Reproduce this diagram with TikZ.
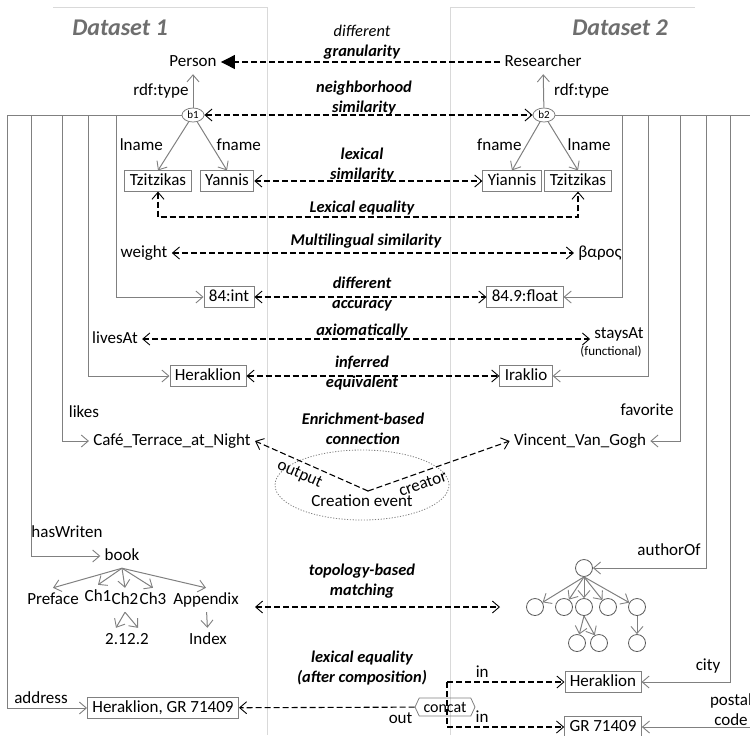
\documentclass[tikz,border=0pt]{standalone}
\usepackage{fontspec}
\setmainfont{Carlito}
\usetikzlibrary{arrows.meta,shapes.geometric,shapes.symbols}
\definecolor{edgegray}{RGB}{128,128,128}
\definecolor{titlegray}{RGB}{110,110,110}
\tikzset{
  >={Straight Barb[length=3.5pt,width=6pt,line width=0.45pt]},
  txt/.style={font=\fontsize{8.5}{10}\selectfont, inner sep=2pt, text height=6pt, text depth=1.8pt},
  val/.style={txt, draw=edgegray, inner xsep=2.5pt, inner ysep=1.2pt},
  sim/.style={font=\fontsize{8.2}{9.8}\selectfont\bfseries\itshape, align=center, inner sep=0pt},
  edge/.style={draw=edgegray, line width=0.5pt, ->},
  match/.style={draw=black, line width=0.55pt, dash pattern=on 3pt off 1.5pt},
  blank/.style={ellipse, draw=edgegray, font=\fontsize{5.5}{6}\selectfont, inner sep=0.5pt, minimum width=11pt, minimum height=7pt},
  leaf/.style={circle, draw=edgegray!70!black, minimum size=8.5pt, inner sep=0pt},
  title/.style={font=\fontsize{12}{14}\selectfont\bfseries\itshape, text=titlegray},
  panel/.style={draw=gray!30, line width=0.5pt},
  evt/.style={ellipse, draw=edgegray, line width=0.4pt, dash pattern=on 0.6pt off 0.8pt, minimum width=87pt, minimum height=35pt},
  conc/.style={signal, signal to=west and east, signal pointer angle=130, draw=edgegray, font=\fontsize{8}{9}\selectfont, inner sep=1pt, minimum height=9pt, minimum width=30pt}
}
\begin{document}
\begin{tikzpicture}[x=0.5pt,y=-0.5pt]
  \useasboundingbox (0,0) rectangle (750,735);
  \draw[panel] (53,7) -- (267,7) -- (267,735);
  \draw[panel] (450,735) -- (450,7) -- (695,7);
  \node[title] (ds1) at (120,28) {Dataset 1};
  \node[title] (ds2) at (620,28) {Dataset 2};

  \node[txt] (per) at (193,62) {Person};
  \node[txt] (res) at (543,62) {Researcher};
  \node[blank] (b1) at (193,115) {b1};
  \node[blank] (b2) at (544,115) {b2};
  \draw[edge] (b1) -- (per) node[midway,left,txt] {rdf:type};
  \draw[edge] (b2) -- (res) node[midway,right,txt,xshift=3pt] {rdf:type};

  \node[val] (tzL) at (158,181) {Tzitzikas};
  \node[val] (yan) at (227,181) {Yannis};
  \node[val] (yia) at (512,181) {Yiannis};
  \node[val] (tzR) at (578,181) {Tzitzikas};
  \draw[edge] (b1) -- (tzL.north) node[midway,left,txt,xshift=-3pt] {lname};
  \draw[edge] (b1) -- (yan.north) node[midway,right,txt] {fname};
  \draw[edge] (b2) -- (yia.north) node[midway,left,txt] {fname};
  \draw[edge] (b2) -- (tzR.north) node[midway,right,txt] {lname};

  \node[txt] (wgt) at (144,253) {weight};
  \node[txt] (bar) at (600,253) {βαρος};
  \node[val] (int) at (229,297) {84:int};
  \node[val] (flt) at (525,297) {84.9:float};
  \node[txt] (liv) at (115,339) {livesAt};
  \node[txt] (sa) at (619,334) {staysAt};
  \node[txt,font=\fontsize{6.5}{7}\selectfont] (fun) at (611,351) {(functional)};
  \node[val] (herL) at (208,376) {Heraklion};
  \node[val] (ira) at (526,376) {Iraklio};
  \node[txt] (lik) at (84,413) {likes};
  \node[txt] (fav) at (647,411) {favorite};
  \node[txt] (cafe) at (172,441) {Café\_Terrace\_at\_Night};
  \node[txt] (vvg) at (580,441) {Vincent\_Van\_Gogh};

  \node[evt] (ev) at (362,485) {};
  \node[txt] (cre) at (362,502) {Creation event};
  \coordinate (v) at (368,491);

  \node[txt] (hw) at (67,533) {hasWriten};
  \node[txt] (book) at (122,556) {book};
  \node[txt] (pre) at (53,600) {Preface};
  \node[txt] (ch1) at (98,597) {Ch1};
  \node[txt] (ch2) at (125,600) {Ch2};
  \node[txt] (ch3) at (153,600) {Ch3};
  \node[txt] (apx) at (206,600) {Appendix};
  \node[txt] (s21) at (116,640) {2.1};
  \node[txt] (s22) at (138,640) {2.2};
  \node[txt] (idx) at (208,640) {Index};
  \foreach \c in {pre,ch1,ch2,ch3,apx} \draw[edge] (book.south) -- (\c.north);
  \draw[edge] (ch2.south) -- (s21.north);
  \draw[edge] (ch2.south) -- (s22.north);
  \draw[edge] (apx) -- (idx);

  \node[txt] (auth) at (669,551) {authorOf};
  \node[leaf] (rt) at (584,568) {};
  \foreach \n/\x in {c1/535,c2/564,c3/584,c4/608,c5/637} \node[leaf] (\n) at (\x,607) {};
  \node[leaf] (g1) at (577,643) {};
  \node[leaf] (g2) at (599,643) {};
  \node[leaf] (g3) at (637,643) {};
  \foreach \n in {c1,c2,c3,c4,c5} \draw[edge] (rt.south) -- (\n);
  \draw[edge] (c3.south) -- (g1);
  \draw[edge] (c3.south) -- (g2);
  \draw[edge] (c5) -- (g3);

  \node[txt] (adr) at (41,699) {address};
  \node[val] (hgr) at (163,708) {Heraklion, GR 71409};
  \node[conc] (cc) at (445,707) {concat};
  \node[val] (herR) at (603,682) {Heraklion};
  \node[val] (gr) at (603,727) {GR 71409};
  \node[txt] (cty) at (708,666) {city};
  \node[txt,align=center,text height=,text depth=] (pcd) at (731,710) {postal\\code};

  \foreach \n/\x in {a/7,b/31,c/62,d/88,e/116} \coordinate (l\n) at (\x,115);
  \foreach \n/\x in {a/622,b/648,c/680,d/706,e/730} \coordinate (r\n) at (\x,115);
  \coordinate (rend) at (750,115);
  \coordinate (pst) at (750,727);
  \draw[edge,-] (b1) -- (la);
  \draw[edge,-] (b2) -- (rend);
  \foreach \s/\t in {la/hgr,lb/book,lc/cafe,ld/herL,le/int,ra/flt,rb/ira,rc/vvg,rd/rt,re/herR}
    \draw[edge] (\s) |- (\t);
  \draw[edge] (pst) -- (gr);

  \node[sim] (mgr) at (362,42) {{\mdseries different}\\granularity};
  \node[sim] (mnb) at (364,98) {neighborhood\\similarity};
  \node[sim] (mlx) at (362,165) {lexical\\similarity};
  \node[sim] (meq) at (362,208) {Lexical equality};
  \node[sim] (mml) at (366,241) {Multilingual similarity};
  \node[sim] (mac) at (362,294) {different\\accuracy};
  \node[sim] (max) at (362,331) {axiomatically};
  \node[sim] (mie) at (362,373) {inferred\\equivalent};
  \node[sim] (men) at (363,429) {Enrichment-based\\connection};
  \node[sim] (mtp) at (362,581) {topology-based\\matching};
  \node[sim] (mlc) at (362,668) {lexical equality\\(after composition)};

  \coordinate (leq) at (362,217);
  \coordinate (tpl) at (255,607);
  \coordinate (tpr) at (500,607);
  \coordinate (ja) at (447,682);
  \coordinate (jb) at (447,727);
  \draw[match,-{Triangle[length=7pt,width=7pt]}] (res) -- (per);
  \draw[match,<->] (b1) -- (b2);
  \draw[match,<->] (yan) -- (yia);
  \draw[match,<->] (tzL) |- (leq) -| (tzR);
  \draw[match,<->] (wgt) -- (bar);
  \draw[match,<->] (int) -- (flt);
  \draw[match,<->] (liv.east) -- (liv.east -| sa.west);
  \draw[match,<->] (herL) -- (ira);
  \draw[match,->] (v) -- (cafe.east) node[pos=0.56,sloped,below,txt] {output};
  \draw[match,->] (v) -- (vvg.west) node[pos=0.36,sloped,below,txt] {creator};
  \draw[match,<->] (tpl) -- (tpr);
  \draw[match,->] (cc) -- (hgr) node[pos=0.08,below,txt] {out};
  \draw[match] (ja) -- (jb);
  \draw[match,->] (ja) -- (herR) node[pos=0.3,above,txt,inner sep=0pt] {in};
  \draw[match,->] (jb) -- (gr) node[pos=0.3,above,txt,inner sep=0pt] {in};
\end{tikzpicture}
\end{document}
